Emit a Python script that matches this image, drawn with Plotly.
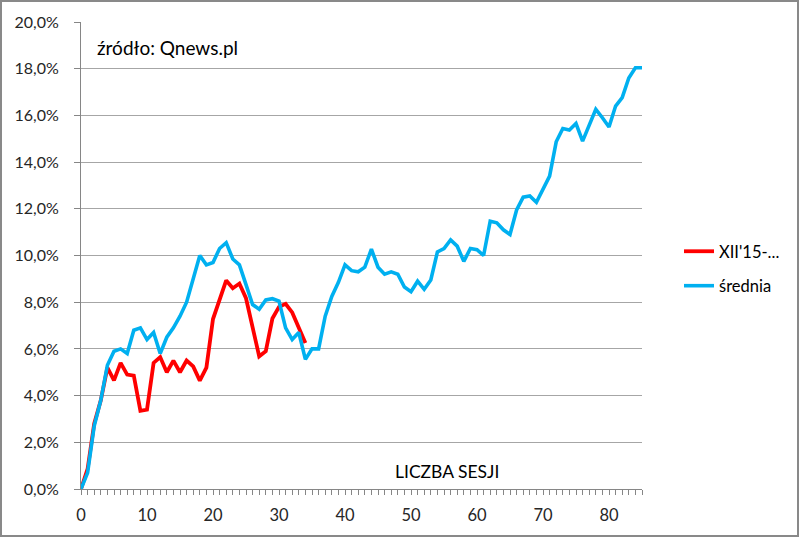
import plotly.graph_objects as go

sessions_red = list(range(0, 35))
red_values = [0.0, 0.86, 2.8, 3.8, 5.2, 4.65, 5.4, 4.9, 4.85, 3.35,
              3.4, 5.4, 5.65, 5.0, 5.5, 5.0, 5.5, 5.25, 4.64, 5.2,
              7.28, 8.07, 8.93, 8.6, 8.8, 8.17, 6.96, 5.68, 5.9, 7.3,
              7.8, 7.93, 7.56, 6.93, 6.25]

sessions_blue = list(range(0, 86))
blue_values = [0.0, 0.7, 2.7, 3.8, 5.3, 5.9, 6.0, 5.8, 6.8, 6.9,
               6.4, 6.7, 5.8, 6.5, 6.9, 7.4, 8.0, 9.0, 10.0, 9.6,
               9.7, 10.3, 10.55, 9.85, 9.6, 8.75, 7.9, 7.7, 8.1, 8.15,
               8.05, 6.9, 6.4, 6.7, 5.55, 6.0, 6.0, 7.4, 8.25, 8.85,
               9.6, 9.35, 9.3, 9.5, 10.27, 9.5, 9.2, 9.3, 9.2, 8.65,
               8.45, 8.9, 8.55, 8.95, 10.15, 10.3, 10.67, 10.4, 9.75, 10.3,
               10.25, 10.0, 11.47, 11.4, 11.1, 10.9, 11.95, 12.5, 12.55, 12.28,
               12.83, 13.4, 14.87, 15.44, 15.37, 15.65, 14.9, 15.58, 16.26, 15.9,
               15.5, 16.4, 16.76, 17.6, 18.04, 18.04]

name_red = "XII'15-..."
name_blue = "średnia"
x_ticks = [0, 10, 20, 30, 40, 50, 60, 70, 80]

FONT = "Lato"
GRID = "#a6a6a6"
AX = "#868686"

fig = go.Figure()
fig.add_trace(go.Scatter(x=sessions_red, y=red_values, mode="lines", name=name_red,
                         line=dict(color="#ff0000", width=3.8), legendgroup="a"))
fig.add_trace(go.Scatter(x=sessions_blue, y=blue_values, mode="lines", name=name_blue,
                         line=dict(color="#00b0f0", width=3.6), legendgroup="b"))

fig.update_layout(
    width=800, height=538,
    margin=dict(l=81, r=158, t=22, b=48.5),
    paper_bgcolor="white", plot_bgcolor="white",
    separators=", ",
    font=dict(family=FONT, size=16, color="#262626"),
    showlegend=True,
    legend=dict(x=1.066, xanchor="left", y=0.546, yanchor="top",
                traceorder="grouped", tracegroupgap=10,
                font=dict(family=FONT, size=16.5, color="#000000"),
                bgcolor="rgba(0,0,0,0)"),
    xaxis=dict(range=[0, 85], tickvals=x_ticks, showgrid=False, zeroline=False,
               showline=True, linecolor=AX, linewidth=1,
               ticks="outside", ticklen=5, tickcolor=AX,
               minor=dict(dtick=1, tick0=0, ticks="outside", ticklen=5, tickcolor=AX, showgrid=False),
               ticklabelstandoff=6, tickfont=dict(size=16.5)),
    yaxis=dict(range=[0, 20], dtick=2, tickformat=".1f", ticksuffix="%",
               showgrid=True, gridcolor=GRID, gridwidth=1, zeroline=False,
               showline=True, linecolor=AX, linewidth=1,
               ticks="outside", ticklen=6, tickcolor=AX,
               ticklabelstandoff=12, tickfont=dict(size=16)),
)

fig.add_annotation(text="źródło: Qnews.pl", xref="paper", yref="paper",
                   x=(95 - 81) / 561, y=(489.5 - 48) / 467.5, xanchor="left", yanchor="middle",
                   showarrow=False, font=dict(family=FONT, size=19, color="#000000"))
fig.add_annotation(text="LICZBA SESJI", xref="paper", yref="paper",
                   x=(393 - 81) / 561, y=(489.5 - 471.5) / 467.5, xanchor="left", yanchor="middle",
                   showarrow=False, font=dict(family=FONT, size=17.5, color="#000000"))

# outer chart border
fig.add_shape(type="rect", xref="paper", yref="paper",
              x0=(1 - 81) / 561, x1=(798 - 81) / 561,
              y0=(489.5 - 536.5) / 467.5, y1=(489.5 - 1) / 467.5,
              line=dict(color="#898989", width=2), fillcolor="rgba(0,0,0,0)", layer="below")

fig.write_html("out.html", config={"displayModeBar": False},
               post_script="document.body.style.margin='0';document.body.style.overflow='hidden';")
